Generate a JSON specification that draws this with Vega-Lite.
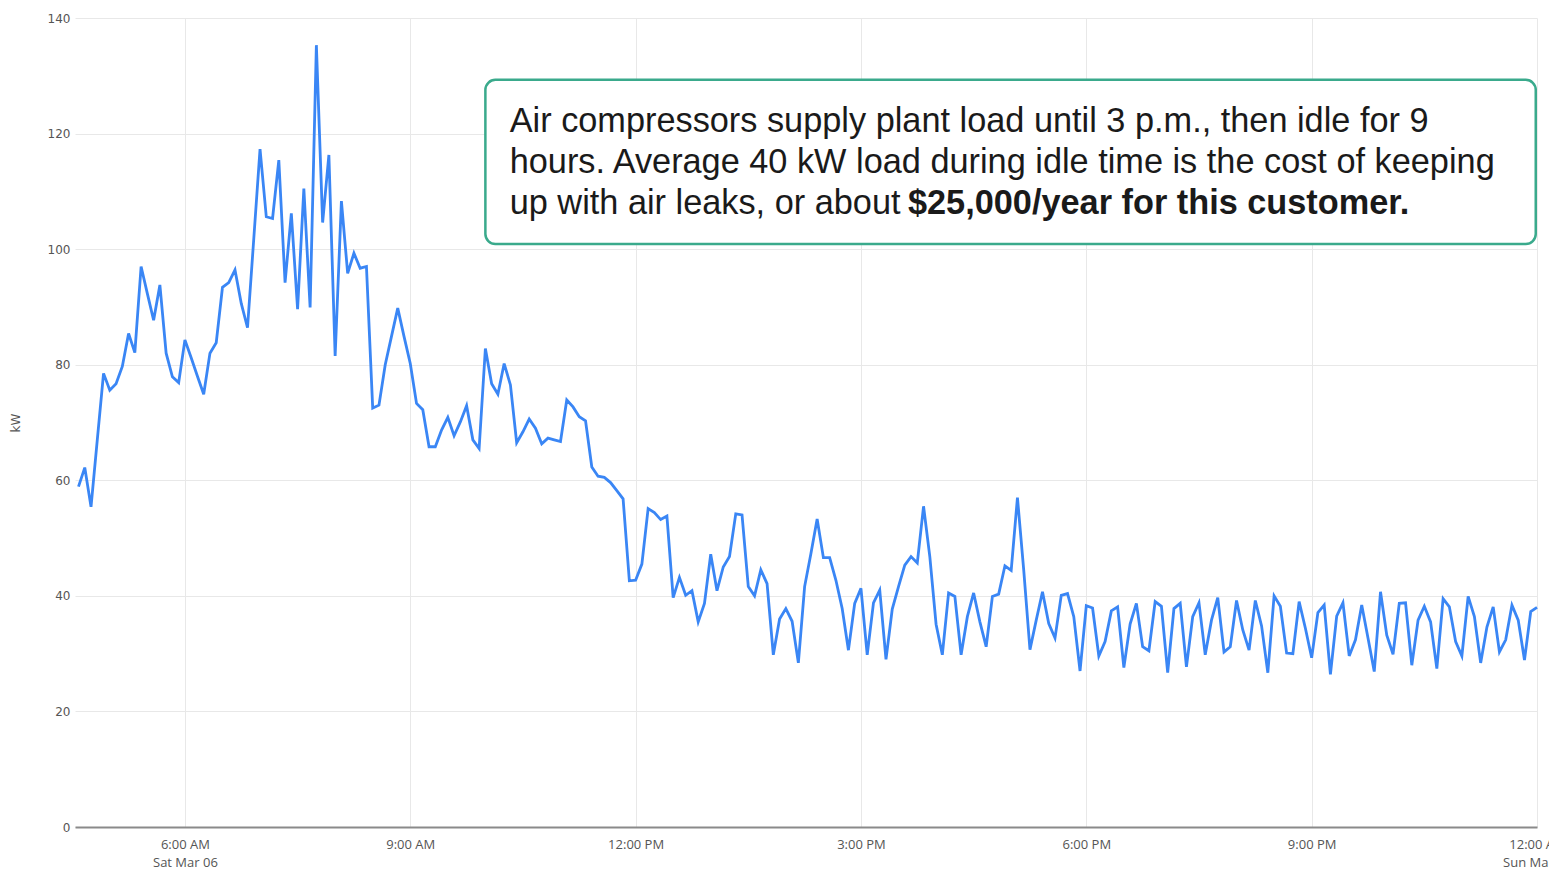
{
  "$schema": "https://vega.github.io/schema/vega-lite/v6.json",
  "width": 1462,
  "height": 809,
  "autosize": {"type": "none"},
  "padding": {"left": 75, "top": 18, "right": 12, "bottom": 44},
  "background": "white",
  "config": {"view": {"stroke": null}},
  "datasets": {
    "load": [
      {"t": "2021-03-06T04:35", "kW": 58.9}, {"t": "2021-03-06T04:40", "kW": 62.2}, {"t": "2021-03-06T04:45", "kW": 55.4}, {"t": "2021-03-06T04:50", "kW": 67.0},
      {"t": "2021-03-06T04:55", "kW": 78.5}, {"t": "2021-03-06T05:00", "kW": 75.6}, {"t": "2021-03-06T05:05", "kW": 76.7}, {"t": "2021-03-06T05:10", "kW": 79.7},
      {"t": "2021-03-06T05:15", "kW": 85.4}, {"t": "2021-03-06T05:20", "kW": 82.1}, {"t": "2021-03-06T05:25", "kW": 97.0}, {"t": "2021-03-06T05:30", "kW": 92.3},
      {"t": "2021-03-06T05:35", "kW": 87.7}, {"t": "2021-03-06T05:40", "kW": 93.8}, {"t": "2021-03-06T05:45", "kW": 82.0}, {"t": "2021-03-06T05:50", "kW": 77.9},
      {"t": "2021-03-06T05:55", "kW": 76.9}, {"t": "2021-03-06T06:00", "kW": 84.3}, {"t": "2021-03-06T06:05", "kW": 81.2}, {"t": "2021-03-06T06:10", "kW": 78.0},
      {"t": "2021-03-06T06:15", "kW": 74.9}, {"t": "2021-03-06T06:20", "kW": 82.0}, {"t": "2021-03-06T06:25", "kW": 83.8}, {"t": "2021-03-06T06:30", "kW": 93.4},
      {"t": "2021-03-06T06:35", "kW": 94.2}, {"t": "2021-03-06T06:40", "kW": 96.4}, {"t": "2021-03-06T06:45", "kW": 90.6}, {"t": "2021-03-06T06:50", "kW": 86.4},
      {"t": "2021-03-06T06:55", "kW": 101.8}, {"t": "2021-03-06T07:00", "kW": 117.3}, {"t": "2021-03-06T07:05", "kW": 105.6}, {"t": "2021-03-06T07:10", "kW": 105.3},
      {"t": "2021-03-06T07:15", "kW": 115.4}, {"t": "2021-03-06T07:20", "kW": 94.2}, {"t": "2021-03-06T07:25", "kW": 106.2}, {"t": "2021-03-06T07:30", "kW": 89.6},
      {"t": "2021-03-06T07:35", "kW": 110.5}, {"t": "2021-03-06T07:40", "kW": 89.9}, {"t": "2021-03-06T07:45", "kW": 135.3}, {"t": "2021-03-06T07:50", "kW": 104.6},
      {"t": "2021-03-06T07:55", "kW": 116.3}, {"t": "2021-03-06T08:00", "kW": 81.5}, {"t": "2021-03-06T08:05", "kW": 108.3}, {"t": "2021-03-06T08:10", "kW": 95.8},
      {"t": "2021-03-06T08:15", "kW": 99.3}, {"t": "2021-03-06T08:20", "kW": 96.7}, {"t": "2021-03-06T08:25", "kW": 97.0}, {"t": "2021-03-06T08:30", "kW": 72.5},
      {"t": "2021-03-06T08:35", "kW": 73.0}, {"t": "2021-03-06T08:40", "kW": 80.0}, {"t": "2021-03-06T08:45", "kW": 84.9}, {"t": "2021-03-06T08:50", "kW": 89.8},
      {"t": "2021-03-06T08:55", "kW": 84.9}, {"t": "2021-03-06T09:00", "kW": 80.2}, {"t": "2021-03-06T09:05", "kW": 73.3}, {"t": "2021-03-06T09:10", "kW": 72.2},
      {"t": "2021-03-06T09:15", "kW": 65.8}, {"t": "2021-03-06T09:20", "kW": 65.8}, {"t": "2021-03-06T09:25", "kW": 68.7}, {"t": "2021-03-06T09:30", "kW": 70.9},
      {"t": "2021-03-06T09:35", "kW": 67.7}, {"t": "2021-03-06T09:40", "kW": 70.1}, {"t": "2021-03-06T09:45", "kW": 72.9}, {"t": "2021-03-06T09:50", "kW": 67.0},
      {"t": "2021-03-06T09:55", "kW": 65.5}, {"t": "2021-03-06T10:00", "kW": 82.8}, {"t": "2021-03-06T10:05", "kW": 76.7}, {"t": "2021-03-06T10:10", "kW": 74.9},
      {"t": "2021-03-06T10:15", "kW": 80.2}, {"t": "2021-03-06T10:20", "kW": 76.5}, {"t": "2021-03-06T10:25", "kW": 66.5}, {"t": "2021-03-06T10:30", "kW": 68.4},
      {"t": "2021-03-06T10:35", "kW": 70.6}, {"t": "2021-03-06T10:40", "kW": 69.0}, {"t": "2021-03-06T10:45", "kW": 66.3}, {"t": "2021-03-06T10:50", "kW": 67.3},
      {"t": "2021-03-06T10:55", "kW": 67.0}, {"t": "2021-03-06T11:00", "kW": 66.7}, {"t": "2021-03-06T11:05", "kW": 73.9}, {"t": "2021-03-06T11:10", "kW": 72.7},
      {"t": "2021-03-06T11:15", "kW": 71.0}, {"t": "2021-03-06T11:20", "kW": 70.3}, {"t": "2021-03-06T11:25", "kW": 62.3}, {"t": "2021-03-06T11:30", "kW": 60.7},
      {"t": "2021-03-06T11:35", "kW": 60.5}, {"t": "2021-03-06T11:40", "kW": 59.6}, {"t": "2021-03-06T11:45", "kW": 58.2}, {"t": "2021-03-06T11:50", "kW": 56.8},
      {"t": "2021-03-06T11:55", "kW": 42.6}, {"t": "2021-03-06T12:00", "kW": 42.7}, {"t": "2021-03-06T12:05", "kW": 45.5}, {"t": "2021-03-06T12:10", "kW": 55.1},
      {"t": "2021-03-06T12:15", "kW": 54.4}, {"t": "2021-03-06T12:20", "kW": 53.2}, {"t": "2021-03-06T12:25", "kW": 53.8}, {"t": "2021-03-06T12:30", "kW": 39.7},
      {"t": "2021-03-06T12:35", "kW": 43.2}, {"t": "2021-03-06T12:40", "kW": 40.1}, {"t": "2021-03-06T12:45", "kW": 40.9}, {"t": "2021-03-06T12:50", "kW": 35.5},
      {"t": "2021-03-06T12:55", "kW": 38.7}, {"t": "2021-03-06T13:00", "kW": 47.2}, {"t": "2021-03-06T13:05", "kW": 40.9}, {"t": "2021-03-06T13:10", "kW": 45.0},
      {"t": "2021-03-06T13:15", "kW": 46.8}, {"t": "2021-03-06T13:20", "kW": 54.2}, {"t": "2021-03-06T13:25", "kW": 54.0}, {"t": "2021-03-06T13:30", "kW": 41.6},
      {"t": "2021-03-06T13:35", "kW": 40.0}, {"t": "2021-03-06T13:40", "kW": 44.5}, {"t": "2021-03-06T13:45", "kW": 42.1}, {"t": "2021-03-06T13:50", "kW": 29.8},
      {"t": "2021-03-06T13:55", "kW": 36.0}, {"t": "2021-03-06T14:00", "kW": 37.8}, {"t": "2021-03-06T14:05", "kW": 35.6}, {"t": "2021-03-06T14:10", "kW": 28.4},
      {"t": "2021-03-06T14:15", "kW": 41.6}, {"t": "2021-03-06T14:20", "kW": 47.3}, {"t": "2021-03-06T14:25", "kW": 53.3}, {"t": "2021-03-06T14:30", "kW": 46.6},
      {"t": "2021-03-06T14:35", "kW": 46.6}, {"t": "2021-03-06T14:40", "kW": 42.7}, {"t": "2021-03-06T14:45", "kW": 37.8}, {"t": "2021-03-06T14:50", "kW": 30.6},
      {"t": "2021-03-06T14:55", "kW": 38.7}, {"t": "2021-03-06T15:00", "kW": 41.3}, {"t": "2021-03-06T15:05", "kW": 29.8}, {"t": "2021-03-06T15:10", "kW": 38.8},
      {"t": "2021-03-06T15:15", "kW": 41.0}, {"t": "2021-03-06T15:20", "kW": 29.0}, {"t": "2021-03-06T15:25", "kW": 37.7}, {"t": "2021-03-06T15:30", "kW": 41.6},
      {"t": "2021-03-06T15:35", "kW": 45.3}, {"t": "2021-03-06T15:40", "kW": 46.8}, {"t": "2021-03-06T15:45", "kW": 45.7}, {"t": "2021-03-06T15:50", "kW": 55.5},
      {"t": "2021-03-06T15:55", "kW": 46.8}, {"t": "2021-03-06T16:00", "kW": 35.1}, {"t": "2021-03-06T16:05", "kW": 29.8}, {"t": "2021-03-06T16:10", "kW": 40.5},
      {"t": "2021-03-06T16:15", "kW": 39.9}, {"t": "2021-03-06T16:20", "kW": 29.8}, {"t": "2021-03-06T16:25", "kW": 36.4}, {"t": "2021-03-06T16:30", "kW": 40.5},
      {"t": "2021-03-06T16:35", "kW": 35.5}, {"t": "2021-03-06T16:40", "kW": 31.2}, {"t": "2021-03-06T16:45", "kW": 39.9}, {"t": "2021-03-06T16:50", "kW": 40.3},
      {"t": "2021-03-06T16:55", "kW": 45.2}, {"t": "2021-03-06T17:00", "kW": 44.4}, {"t": "2021-03-06T17:05", "kW": 57.0}, {"t": "2021-03-06T17:10", "kW": 44.5},
      {"t": "2021-03-06T17:15", "kW": 30.7}, {"t": "2021-03-06T17:20", "kW": 35.8}, {"t": "2021-03-06T17:25", "kW": 40.7}, {"t": "2021-03-06T17:30", "kW": 35.2},
      {"t": "2021-03-06T17:35", "kW": 32.7}, {"t": "2021-03-06T17:40", "kW": 40.1}, {"t": "2021-03-06T17:45", "kW": 40.4}, {"t": "2021-03-06T17:50", "kW": 36.4},
      {"t": "2021-03-06T17:55", "kW": 27.0}, {"t": "2021-03-06T18:00", "kW": 38.3}, {"t": "2021-03-06T18:05", "kW": 37.9}, {"t": "2021-03-06T18:10", "kW": 29.6},
      {"t": "2021-03-06T18:15", "kW": 32.1}, {"t": "2021-03-06T18:20", "kW": 37.4}, {"t": "2021-03-06T18:25", "kW": 38.1}, {"t": "2021-03-06T18:30", "kW": 27.6},
      {"t": "2021-03-06T18:35", "kW": 35.1}, {"t": "2021-03-06T18:40", "kW": 38.7}, {"t": "2021-03-06T18:45", "kW": 31.2}, {"t": "2021-03-06T18:50", "kW": 30.5},
      {"t": "2021-03-06T18:55", "kW": 39.0}, {"t": "2021-03-06T19:00", "kW": 38.2}, {"t": "2021-03-06T19:05", "kW": 26.7}, {"t": "2021-03-06T19:10", "kW": 37.8},
      {"t": "2021-03-06T19:15", "kW": 38.7}, {"t": "2021-03-06T19:20", "kW": 27.7}, {"t": "2021-03-06T19:25", "kW": 36.4}, {"t": "2021-03-06T19:30", "kW": 38.8},
      {"t": "2021-03-06T19:35", "kW": 29.8}, {"t": "2021-03-06T19:40", "kW": 35.8}, {"t": "2021-03-06T19:45", "kW": 39.7}, {"t": "2021-03-06T19:50", "kW": 30.3},
      {"t": "2021-03-06T19:55", "kW": 31.2}, {"t": "2021-03-06T20:00", "kW": 39.2}, {"t": "2021-03-06T20:05", "kW": 34.1}, {"t": "2021-03-06T20:10", "kW": 30.6},
      {"t": "2021-03-06T20:15", "kW": 39.2}, {"t": "2021-03-06T20:20", "kW": 34.8}, {"t": "2021-03-06T20:25", "kW": 26.7}, {"t": "2021-03-06T20:30", "kW": 40.0},
      {"t": "2021-03-06T20:35", "kW": 38.2}, {"t": "2021-03-06T20:40", "kW": 30.1}, {"t": "2021-03-06T20:45", "kW": 30.0}, {"t": "2021-03-06T20:50", "kW": 39.0},
      {"t": "2021-03-06T20:55", "kW": 34.4}, {"t": "2021-03-06T21:00", "kW": 29.3}, {"t": "2021-03-06T21:05", "kW": 37.1}, {"t": "2021-03-06T21:10", "kW": 38.4},
      {"t": "2021-03-06T21:15", "kW": 26.4}, {"t": "2021-03-06T21:20", "kW": 36.5}, {"t": "2021-03-06T21:25", "kW": 38.8}, {"t": "2021-03-06T21:30", "kW": 29.6},
      {"t": "2021-03-06T21:35", "kW": 32.4}, {"t": "2021-03-06T21:40", "kW": 38.4}, {"t": "2021-03-06T21:45", "kW": 32.7}, {"t": "2021-03-06T21:50", "kW": 26.9},
      {"t": "2021-03-06T21:55", "kW": 40.7}, {"t": "2021-03-06T22:00", "kW": 33.2}, {"t": "2021-03-06T22:05", "kW": 29.9}, {"t": "2021-03-06T22:10", "kW": 38.7},
      {"t": "2021-03-06T22:15", "kW": 38.8}, {"t": "2021-03-06T22:20", "kW": 28.0}, {"t": "2021-03-06T22:25", "kW": 35.8}, {"t": "2021-03-06T22:30", "kW": 38.2},
      {"t": "2021-03-06T22:35", "kW": 35.5}, {"t": "2021-03-06T22:40", "kW": 27.4}, {"t": "2021-03-06T22:45", "kW": 39.5}, {"t": "2021-03-06T22:50", "kW": 38.1},
      {"t": "2021-03-06T22:55", "kW": 32.1}, {"t": "2021-03-06T23:00", "kW": 29.6}, {"t": "2021-03-06T23:05", "kW": 39.9}, {"t": "2021-03-06T23:10", "kW": 36.4},
      {"t": "2021-03-06T23:15", "kW": 28.4}, {"t": "2021-03-06T23:20", "kW": 34.6}, {"t": "2021-03-06T23:25", "kW": 38.1}, {"t": "2021-03-06T23:30", "kW": 30.3},
      {"t": "2021-03-06T23:35", "kW": 32.4}, {"t": "2021-03-06T23:40", "kW": 38.4}, {"t": "2021-03-06T23:45", "kW": 35.8}, {"t": "2021-03-06T23:50", "kW": 28.9},
      {"t": "2021-03-06T23:55", "kW": 37.3}, {"t": "2021-03-07T00:00", "kW": 38.0}
    ],
    "box": [{"x1": "2021-03-06T10:00:00", "x2": "2021-03-06T23:59:00", "y1": 129.3, "y2": 100.9}],
    "notes": [
      {"x": "2021-03-06T10:19:25", "y": 120.2, "text": "Air compressors supply plant load until 3 p.m., then idle for 9"},
      {"x": "2021-03-06T10:19:25", "y": 113.1, "text": "hours. Average 40 kW load during idle time is the cost of keeping"},
      {"x": "2021-03-06T10:19:25", "y": 106.0, "text": "up with air leaks, or about "}
    ],
    "bold": [
      {"x": "2021-03-06T15:37:30", "y": 106.0, "text": "$25,000/year for this customer."}
    ]
  },
  "layer": [
    {
      "data": {"name": "load"},
      "mark": {"type": "line", "color": "#3a86f5", "strokeWidth": 2.8},
      "encoding": {
        "x": {
          "field": "t", "type": "temporal",
          "scale": {"domain": ["2021-03-06T04:32:12", "2021-03-07T00:00:00"]},
          "axis": {
            "title": null,
            "values": [
              {"year": 2021, "month": 3, "date": 6, "hours": 6},
              {"year": 2021, "month": 3, "date": 6, "hours": 9},
              {"year": 2021, "month": 3, "date": 6, "hours": 12},
              {"year": 2021, "month": 3, "date": 6, "hours": 15},
              {"year": 2021, "month": 3, "date": 6, "hours": 18},
              {"year": 2021, "month": 3, "date": 6, "hours": 21},
              {"year": 2021, "month": 3, "date": 7, "hours": 0}
            ],
            "labelExpr": "[timeFormat(datum.value, '%-I:%M %p'), (hours(datum.value) == 0 || hours(datum.value) == 6) ? timeFormat(datum.value, '%a %b %d') : '']",
            "labelFont": "Open Sans", "labelFontSize": 13, "labelColor": "#555555",
            "labelLineHeight": 18, "labelPadding": 11,
            "labelOverlap": false, "labelFlush": false, "labelBound": false,
            "ticks": false,
            "domain": true, "domainColor": "#8a8a8a", "domainWidth": 2,
            "grid": true, "gridColor": "#e8e8e8", "gridWidth": 1
          }
        },
        "y": {
          "field": "kW", "type": "quantitative",
          "scale": {"domain": [0, 140], "nice": false},
          "axis": {
            "values": [0, 20, 40, 60, 80, 100, 120, 140],
            "title": "kW", "titleFont": "DejaVu Sans", "titleFontSize": 12, "titleFontWeight": "normal", "titleColor": "#555555",
            "titlePadding": 25,
            "labelFont": "DejaVu Sans", "labelFontSize": 12, "labelColor": "#555555", "labelPadding": 5,
            "ticks": false, "domain": false,
            "grid": true, "gridColor": "#e8e8e8", "gridWidth": 1
          }
        }
      }
    },
    {
      "data": {"name": "box"},
      "mark": {"type": "rect", "fill": "white", "stroke": "#3aaa8c", "strokeWidth": 2.5, "cornerRadius": 10},
      "encoding": {
        "x": {"field": "x1", "type": "temporal"},
        "x2": {"field": "x2"},
        "y": {"field": "y1", "type": "quantitative"},
        "y2": {"field": "y2"}
      }
    },
    {
      "data": {"name": "notes"},
      "mark": {"type": "text", "align": "left", "baseline": "alphabetic", "font": "Liberation Sans", "fontSize": 34.3, "color": "#1a1a1a"},
      "encoding": {
        "x": {"field": "x", "type": "temporal"},
        "y": {"field": "y", "type": "quantitative"},
        "text": {"field": "text"}
      }
    },
    {
      "data": {"name": "bold"},
      "mark": {"type": "text", "align": "left", "baseline": "alphabetic", "font": "Liberation Sans", "fontSize": 34.3, "fontWeight": "bold", "color": "#1a1a1a"},
      "encoding": {
        "x": {"field": "x", "type": "temporal"},
        "y": {"field": "y", "type": "quantitative"},
        "text": {"field": "text"}
      }
    }
  ]
}
